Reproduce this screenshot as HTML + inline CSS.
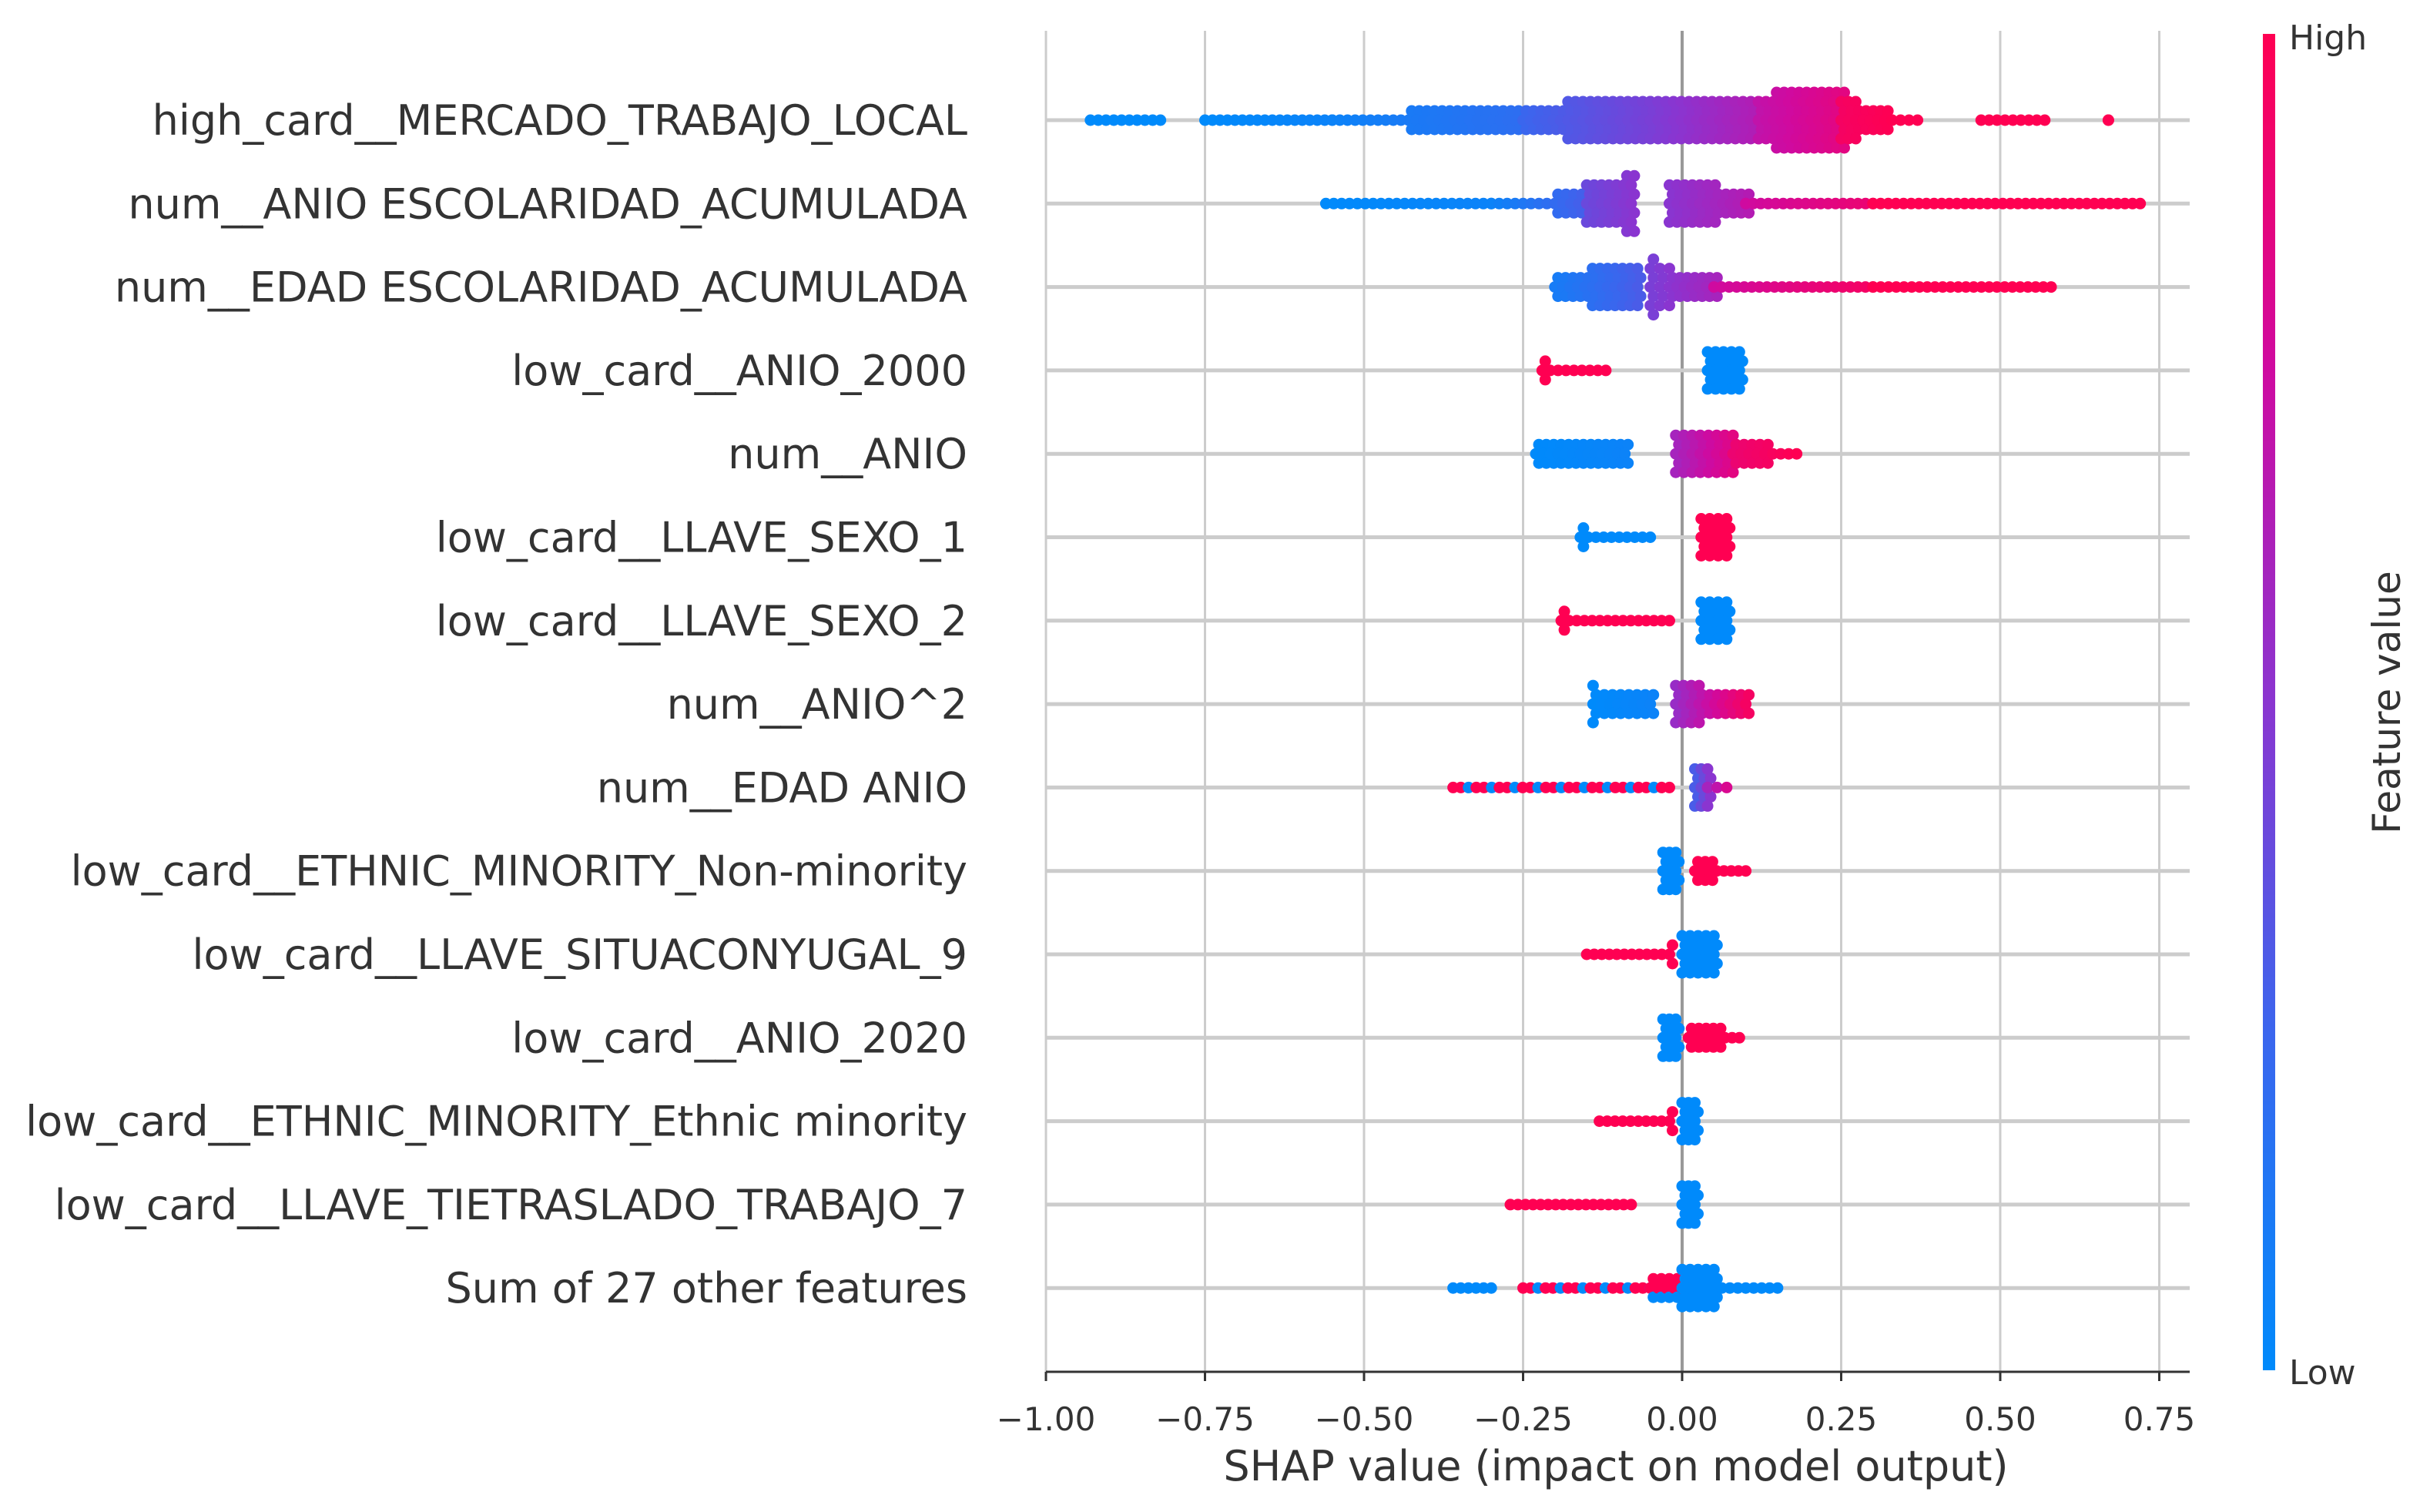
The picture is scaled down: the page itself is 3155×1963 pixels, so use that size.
<!DOCTYPE html>
<html><head><meta charset="utf-8"><style>
html,body{margin:0;padding:0;background:#fff}
svg{display:block;font-family:"DejaVu Sans","Liberation Sans",sans-serif}
</style></head><body>
<svg id="chart" width="3155" height="1963" viewBox="0 0 3155 1963" xmlns="http://www.w3.org/2000/svg">
<defs>
<linearGradient id="cbar" x1="0" y1="1" x2="0" y2="0">
<stop offset="0" stop-color="#008afb"/><stop offset="0.25" stop-color="#3a66ee"/><stop offset="0.5" stop-color="#8a35d0"/><stop offset="0.75" stop-color="#cf0aa0"/><stop offset="1" stop-color="#ff0052"/>
</linearGradient>
</defs>
<g id="grid"></g>
<g id="dots"></g>
<g id="axes"></g>
<rect x="2938" y="44" width="16" height="1735" fill="url(#cbar)"/>
<text x="2972" y="64" font-size="44" fill="#333">High</text>
<text x="2972" y="1797" font-size="44" fill="#333">Low</text>
<text transform="translate(3116,912) rotate(-90)" text-anchor="middle" font-size="50" fill="#333">Feature value</text>
<text x="2098" y="1922" text-anchor="middle" font-size="54" fill="#333">SHAP value (impact on model output)</text>
</svg>
<script>
const features = ["high_card__MERCADO_TRABAJO_LOCAL","num__ANIO ESCOLARIDAD_ACUMULADA","num__EDAD ESCOLARIDAD_ACUMULADA","low_card__ANIO_2000","num__ANIO","low_card__LLAVE_SEXO_1","low_card__LLAVE_SEXO_2","num__ANIO^2","num__EDAD ANIO","low_card__ETHNIC_MINORITY_Non-minority","low_card__LLAVE_SITUACONYUGAL_9","low_card__ANIO_2020","low_card__ETHNIC_MINORITY_Ethnic minority","low_card__LLAVE_TIETRASLADO_TRABAJO_7","Sum of 27 other features"];
const xTicks = [-1.0,-0.75,-0.5,-0.25,0.0,0.25,0.5,0.75];
const xTickLabels = ["\u22121.00","\u22120.75","\u22120.50","\u22120.25","0.00","0.25","0.50","0.75"];
// clusters per feature: [xStart, xEnd, halfSpreadStart, halfSpreadEnd, colorStart, colorEnd] (color -1 = mixed)
const clusters0 = [[-0.93,-0.82,0,0,0,0],[-0.75,-0.55,0,6,0,0.05],[-0.55,-0.25,8,18,0.05,0.2],[-0.25,-0.05,18,35,0.25,0.45],[-0.05,0.12,25,30,0.45,0.65],[0.12,0.25,35,45,0.7,0.85],[0.25,0.33,30,10,0.95,1],[0.33,0.37,5,0,1,1],[0.47,0.57,6,0,1,1],[0.67,0.67,0,0,1,1]];
const clusters1 = [[-0.56,-0.3,0,4,0,0.05],[-0.3,-0.15,8,14,0.05,0.3],[-0.15,-0.08,25,40,0.4,0.5],[-0.02,0.1,30,20,0.5,0.65],[0.1,0.3,10,8,0.75,0.9],[0.3,0.72,8,4,1,1]];
const clusters2 = [[-0.2,-0.07,20,30,0.1,0.3],[-0.05,-0.02,40,30,0.45,0.5],[-0.02,0.05,22,12,0.5,0.6],[0.05,0.3,8,6,0.75,0.95],[0.3,0.58,0,0,1,1]];
const clusters3 = [[-0.22,-0.12,12,10,1,1],[0.04,0.09,30,30,0,0]];
const clusters4 = [[-0.23,-0.09,15,20,0,0.05],[-0.01,0.08,25,30,0.6,0.85],[0.08,0.18,20,4,0.9,1]];
const clusters5 = [[-0.16,-0.05,12,10,0,0],[0.03,0.07,32,30,1,1]];
const clusters6 = [[-0.19,-0.02,12,8,1,1],[0.03,0.07,32,28,0,0]];
const clusters7 = [[-0.14,-0.05,25,15,0,0.05],[-0.01,0.1,30,12,0.55,0.95]];
const clusters8 = [[-0.36,-0.02,0,8,-1,-1],[0.02,0.04,25,25,0.3,0.5],[0.04,0.07,4,0,0.6,0.8]];
const clusters9 = [[-0.03,-0.01,30,30,0,0],[0.02,0.1,14,8,1,1]];
const clusters10 = [[-0.15,-0.02,10,12,1,1],[0.0,0.05,30,25,0,0]];
const clusters11 = [[-0.03,-0.01,30,30,0,0],[0.01,0.09,18,8,1,1]];
const clusters12 = [[-0.13,-0.02,8,12,1,1],[0.0,0.02,30,30,0,0]];
const clusters13 = [[-0.27,-0.08,8,8,1,1],[0.0,0.02,30,30,0,0]];
const clusters14 = [[-0.36,-0.3,0,0,0,0],[-0.25,-0.05,6,10,-1,-1],[-0.05,0.0,15,22,-1,-1],[0.0,0.05,35,30,0,0],[0.05,0.15,6,0,0,0]];
const allClusters=[clusters0,clusters1,clusters2,clusters3,clusters4,clusters5,clusters6,clusters7,clusters8,clusters9,clusters10,clusters11,clusters12,clusters13,clusters14];

const NS="http://www.w3.org/2000/svg";
const X0=1358,X1=2843,YT=40,YB=1781;
const xs=v=>2184+v*826;
const ys=i=>156+i*108.3;
const stops=[[0,[0,138,251]],[0.25,[58,102,238]],[0.5,[138,53,208]],[0.75,[207,10,160]],[1,[255,0,82]]];
function cmap(t){for(let i=1;i<stops.length;i++){if(t<=stops[i][0]){const a=stops[i-1],b=stops[i];const f=(t-a[0])/(b[0]-a[0]);return `rgb(${a[1].map((c,j)=>Math.round(c+(b[1][j]-c)*f)).join(',')})`;}}return 'rgb(255,0,82)';}
function mk(tag,attrs,parent){const e=document.createElementNS(NS,tag);for(const k in attrs)e.setAttribute(k,attrs[k]);parent.appendChild(e);return e;}
const grid=document.getElementById('grid'),axes=document.getElementById('axes'),dots=document.getElementById('dots');
xTicks.forEach((t,i)=>{
 const l=mk('line',{x1:xs(t),x2:xs(t),y1:YT,y2:YB,stroke:t===0?'#999':'#cccccc','stroke-width':t===0?4:3},grid);
 
 
 const tk=mk('line',{x1:xs(t),x2:xs(t),y1:YB,y2:YB+12,stroke:'#333','stroke-width':3},axes);
 
 
 const tx=mk('text',{x:xs(t),y:1857,'text-anchor':'middle','font-size':42,fill:'#333'},axes);
 tx.textContent=xTickLabels[i];
 
 
});
const sp=mk('line',{x1:X0,x2:X1,y1:YB,y2:YB,stroke:'#333','stroke-width':3},axes);


features.forEach((f,i)=>{
 const y=ys(i);
 const l=mk('line',{x1:X0,x2:X1,y1:y,y2:y,stroke:'#cccccc','stroke-width':5},grid);
 
 
 const t=mk('text',{x:1256,y:y+19,'text-anchor':'end','font-size':54,fill:'#333'},axes);
 t.textContent=f;
 
 
 let n=0;
 allClusters[i].forEach(c=>{
  const px0=xs(c[0]),px1=xs(c[1]);
  const cols=Math.max(1,Math.round((px1-px0)/10));
  for(let k=0;k<=cols;k++){
   const f2=cols?k/cols:0;const x=px0+(px1-px0)*f2;
   const h=c[2]+(c[3]-c[2])*f2;
   const m=Math.floor(h/12);
   for(let j=-m;j<=m;j++){
    n++;
    let col;
    if(c[4]<0){col=(n%3===0)?cmap(0):cmap(1);}else col=cmap(c[4]+(c[5]-c[4])*f2);
    const d=mk('circle',{cx:x+((j%2)?4:0),cy:y+j*12,r:7.5,fill:col},dots);
    
    
   }
  }
 });
});
</script>
</body></html>
